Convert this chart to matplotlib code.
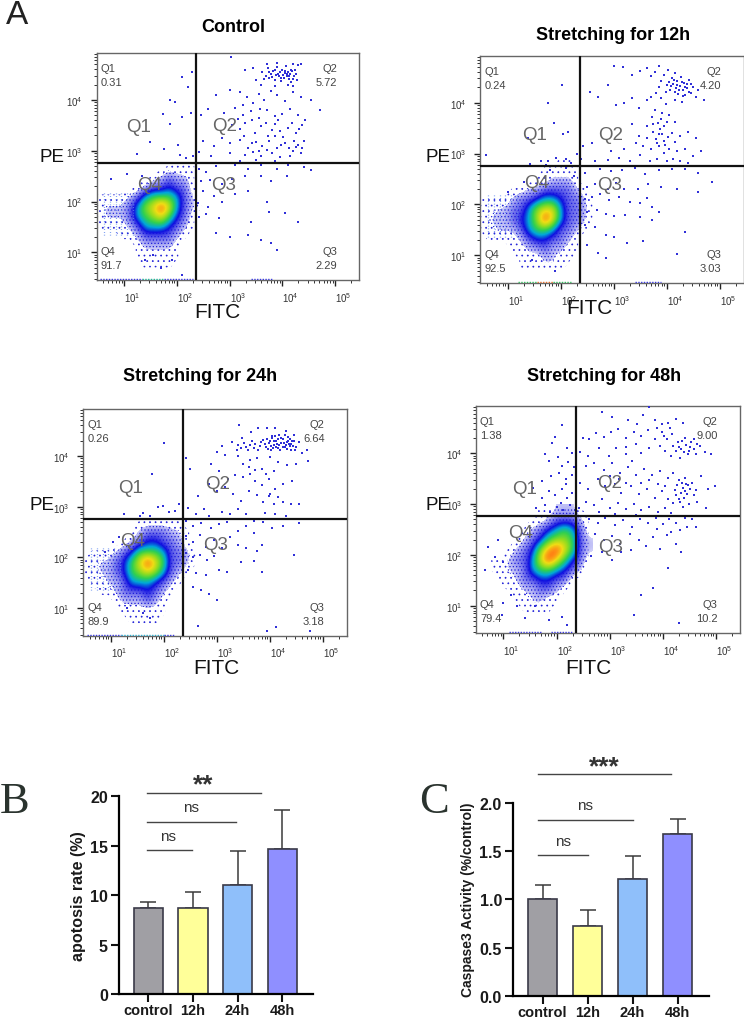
import matplotlib
matplotlib.use("Agg")
import matplotlib.pyplot as plt
import numpy as np
from matplotlib.colors import LinearSegmentedColormap

plt.rcParams['font.family'] = ['Liberation Sans', 'DejaVu Sans']
plt.rcParams['mathtext.default'] = 'regular'
plt.rcParams['hatch.linewidth'] = 0.5

W, H = 744, 1020

# density: log10 FITC columns, log10 PE rows (top to bottom), 0-10 colour level
grid_x = [0.5, 0.65, 0.8, 0.95, 1.1, 1.25, 1.4, 1.55, 1.7, 1.85, 2.0, 2.15, 2.3, 2.45, 2.6]
grid_y = [2.9, 2.7, 2.5, 2.3, 2.1, 1.9, 1.7, 1.5, 1.3, 1.1, 0.9, 0.7]

control_density = [
    [0, 0, 0, 0, 0, 0, 0, 0, 0, 0, 0, 0, 0, 0, 0],
    [0, 0, 0, 0, 0, 0, 0, 0, 0, 1, 1, 1, 1, 0, 0],
    [0, 0, 0, 0, 0, 0, 0, 1, 2, 3, 2, 2, 1, 0, 0],
    [0, 0, 0, 0, 0, 1, 2, 3, 3, 4, 3, 3, 1, 0, 0],
    [1, 1, 1, 1, 2, 3, 5, 6, 6, 6, 5, 3, 2, 0, 0],
    [1, 2, 2, 2, 3, 5, 7, 8, 10, 8, 5, 3, 2, 1, 0],
    [1, 2, 2, 2, 3, 5, 6, 7, 8, 6, 4, 3, 1, 0, 0],
    [1, 1, 1, 1, 2, 3, 5, 5, 5, 4, 3, 2, 1, 0, 0],
    [0, 0, 0, 1, 1, 2, 3, 3, 3, 3, 2, 1, 0, 0, 0],
    [0, 0, 0, 0, 0, 1, 2, 2, 2, 2, 1, 0, 0, 0, 0],
    [0, 0, 0, 0, 0, 1, 1, 1, 1, 1, 1, 0, 0, 0, 0],
    [0, 0, 0, 0, 0, 0, 1, 1, 1, 1, 0, 0, 0, 0, 0],
]
h12_density = [
    [0, 0, 0, 0, 0, 0, 0, 0, 0, 0, 1, 1, 0, 0, 0],
    [0, 0, 0, 0, 0, 0, 0, 0, 1, 1, 1, 1, 1, 0, 0],
    [0, 0, 0, 0, 0, 0, 0, 1, 1, 2, 2, 2, 1, 0, 0],
    [0, 0, 0, 0, 1, 1, 2, 2, 3, 3, 3, 3, 2, 1, 0],
    [1, 1, 1, 1, 2, 3, 3, 4, 5, 5, 4, 3, 3, 2, 1],
    [1, 1, 2, 2, 3, 3, 5, 7, 8, 8, 5, 3, 3, 2, 1],
    [1, 2, 2, 2, 3, 4, 5, 7, 10, 8, 5, 3, 3, 2, 1],
    [1, 1, 2, 2, 2, 3, 5, 6, 6, 5, 3, 3, 2, 1, 0],
    [0, 1, 1, 1, 1, 2, 3, 4, 4, 3, 3, 2, 1, 0, 0],
    [0, 0, 0, 0, 1, 1, 2, 2, 3, 2, 2, 1, 1, 0, 0],
    [0, 0, 0, 0, 0, 1, 1, 1, 2, 2, 1, 1, 0, 0, 0],
    [0, 0, 0, 0, 0, 1, 1, 1, 1, 1, 1, 0, 0, 0, 0],
]
h24_density = [
    [0, 0, 0, 0, 0, 0, 0, 0, 0, 0, 0, 0, 0, 0, 0],
    [0, 0, 0, 0, 0, 0, 0, 1, 1, 1, 1, 1, 1, 0, 0],
    [0, 0, 0, 0, 0, 0, 1, 2, 3, 3, 3, 2, 2, 1, 0],
    [0, 0, 0, 0, 0, 1, 2, 3, 4, 4, 3, 3, 2, 1, 0],
    [0, 1, 1, 1, 2, 3, 4, 6, 6, 6, 5, 3, 3, 2, 1],
    [1, 1, 2, 2, 3, 4, 6, 8, 10, 8, 6, 3, 3, 2, 1],
    [1, 1, 2, 2, 3, 4, 6, 7, 8, 7, 5, 3, 2, 1, 0],
    [0, 1, 1, 2, 2, 3, 5, 5, 5, 4, 3, 2, 1, 0, 0],
    [0, 0, 1, 1, 2, 3, 3, 3, 4, 3, 2, 1, 0, 0, 0],
    [0, 0, 0, 0, 1, 2, 2, 2, 3, 2, 1, 0, 0, 0, 0],
    [0, 0, 0, 0, 0, 1, 1, 1, 1, 1, 1, 0, 0, 0, 0],
    [0, 0, 0, 0, 0, 0, 1, 1, 1, 1, 0, 0, 0, 0, 0],
]
h48_density = [
    [0, 0, 0, 0, 0, 0, 0, 0, 1, 1, 2, 2, 2, 1, 0],
    [0, 0, 0, 0, 0, 0, 0, 1, 1, 2, 3, 3, 3, 2, 1],
    [0, 0, 0, 0, 0, 0, 1, 2, 3, 4, 5, 6, 5, 3, 1],
    [0, 0, 0, 0, 0, 1, 2, 3, 4, 6, 7, 7, 6, 3, 2],
    [0, 0, 0, 0, 1, 2, 3, 4, 7, 9, 10, 8, 6, 3, 2],
    [0, 0, 1, 1, 2, 3, 3, 5, 8, 10, 8, 6, 4, 3, 1],
    [0, 0, 1, 1, 2, 2, 3, 5, 6, 6, 5, 4, 3, 2, 0],
    [0, 0, 0, 1, 1, 2, 3, 3, 4, 4, 3, 3, 1, 0, 0],
    [0, 0, 0, 0, 1, 1, 2, 2, 3, 3, 2, 1, 0, 0, 0],
    [0, 0, 0, 0, 0, 1, 1, 2, 2, 1, 1, 0, 0, 0, 0],
    [0, 0, 0, 0, 0, 0, 1, 1, 1, 1, 0, 0, 0, 0, 0],
    [0, 0, 0, 0, 0, 0, 0, 0, 0, 0, 0, 0, 0, 0, 0],
]

# individual events outside the dense core (log10 FITC, log10 PE)
control_points = [
    (2.09, 4.45), (2.28, 4.55), (2.22, 4.26), (1.87, 3.99), (1.97, 3.96), (1.73, 3.72), (1.87, 3.52), (2.1, 3.66),
    (2.26, 3.75), (1.49, 3.18), (1.75, 3.04), (2.03, 3.12), (1.25, 2.93), (2.06, 2.91), (2.18, 2.86), (2.3, 2.9),
    (3.62, 4.55), (3.68, 4.48), (3.72, 4.62), (3.75, 4.43), (3.79, 4.52), (3.82, 4.58), (3.85, 4.40), (3.88, 4.50),
    (3.90, 4.64), (3.93, 4.47), (3.95, 4.55), (3.97, 4.38), (4.0, 4.60), (4.02, 4.50), (4.03, 4.44), (4.05, 4.53),
    (4.07, 4.66), (4.09, 4.47), (4.11, 4.56), (4.13, 4.42), (4.15, 4.51), (4.17, 4.35), (4.19, 4.58), (4.22, 4.47),
    (4.25, 4.52), (4.28, 4.40), (4.3, 4.68), (3.45, 4.62), (3.3, 4.6), (3.5, 4.4), (3.6, 4.3), (3.85, 4.28),
    (4.1, 4.3), (4.2, 4.28), (3.7, 4.7), (3.9, 4.72), (4.2, 4.7), (4.35, 4.7), (3.02, 4.85), (2.75, 4.1),
    (3.0, 4.2), (3.2, 4.15), (3.32, 4.05), (3.45, 3.95), (3.55, 4.12), (3.65, 4.0), (3.78, 4.18), (3.9, 4.1),
    (4.05, 3.98), (4.2, 4.15), (4.35, 4.05), (4.55, 4.0), (4.72, 3.8), (2.45, 3.7), (2.6, 3.82), (2.9, 3.75),
    (3.1, 3.85), (3.25, 3.7), (3.4, 3.78), (3.55, 3.65), (3.7, 3.8), (3.85, 3.68), (4.0, 3.72), (4.15, 3.82),
    (4.3, 3.7), (4.42, 3.6), (3.05, 3.5), (3.2, 3.42), (3.3, 3.55), (3.48, 3.35), (3.6, 3.48), (3.72, 3.3),
    (3.85, 3.52), (3.95, 3.38), (4.1, 3.45), (4.25, 3.35), (4.38, 3.5), (2.5, 3.2), (2.7, 3.1), (2.85, 3.25),
    (3.0, 3.15), (3.2, 3.22), (3.35, 3.05), (3.5, 3.18), (3.62, 3.1), (3.75, 3.2), (3.9, 3.05), (4.05, 3.15),
    (4.2, 3.0), (4.3, 3.12), (4.4, 3.2), (2.42, 2.98), (2.65, 2.9), (3.0, 2.95), (3.3, 2.92), (3.45, 2.98),
    (3.6, 2.9), (3.8, 2.95), (3.95, 2.88), (4.15, 2.9), (4.35, 2.95), (3.2, 2.8), (3.5, 2.82), (3.85, 2.8),
    (2.42, 2.65), (2.55, 2.58), (2.75, 2.7), (3.1, 2.72), (3.35, 2.65), (3.6, 2.72), (3.9, 2.65), (4.1, 2.72),
    (4.4, 2.68), (4.55, 2.62), (2.45, 2.4), (2.62, 2.42), (2.85, 2.35), (3.05, 2.45), (3.3, 2.5), (3.6, 2.5),
    (3.78, 2.4), (4.08, 2.5), (2.5, 2.2), (2.7, 2.1), (2.4, 1.98), (2.6, 1.9), (2.85, 2.0), (3.1, 2.15),
    (3.35, 2.2), (3.7, 2.0), (2.42, 1.7), (2.55, 1.75), (2.8, 1.68), (3.4, 1.6), (3.75, 1.8), (4.05, 1.78),
    (2.75, 1.38), (3.0, 1.3), (3.35, 1.35), (3.6, 1.25), (3.78, 1.18), (3.9, 1.05), (4.3, 1.6),
    (1.05, 2.55), (0.75, 2.45), (1.35, 2.5), (1.4, 0.85), (1.55, 0.95), (1.7, 0.7), (1.9, 0.85), (2.1, 0.55),
    # second pass over the upper right cloud
    (3.66, 4.42), (3.74, 4.55), (3.8, 4.46), (3.86, 4.6), (3.92, 4.52), (3.98, 4.44), (4.04, 4.58), (4.08, 4.52),
    (4.12, 4.48), (4.16, 4.6), (4.2, 4.42), (4.24, 4.6), (3.25, 3.9), (3.42, 3.6), (3.58, 3.82), (3.68, 3.55),
    (3.8, 3.4), (3.92, 3.6), (4.02, 3.28), (4.18, 3.55), (4.22, 3.2), (4.32, 3.42), (3.15, 3.62), (3.28, 3.3),
    (3.42, 3.15), (3.55, 3.0), (3.7, 3.02), (3.85, 3.3), (3.98, 3.12), (4.12, 3.05), (4.25, 3.08), (4.38, 3.05),
]
h12_points = [
    (2.38, 2.9), (2.02, 4.35), (1.76, 4.0), (1.87, 3.6), (2.13, 3.42), (2.05, 3.38), (1.38, 3.3), (1.92, 2.92),
    (1.62, 2.85), (1.76, 2.85), (2.3, 3.0), (2.1, 2.9), (0.6, 2.98), (1.42, 2.8), (1.72, 2.78), (2.2, 2.82),
    (3.0, 4.72), (3.18, 4.7), (3.35, 4.55), (3.5, 4.62), (3.62, 4.68), (3.7, 4.52), (3.78, 4.6), (3.85, 4.72),
    (3.9, 4.42), (3.95, 4.55), (4.0, 4.35), (4.03, 4.65), (4.07, 4.25), (4.1, 4.48), (4.12, 4.36), (4.15, 4.58),
    (4.18, 4.28), (4.2, 4.42), (4.22, 4.18), (4.25, 4.32), (4.27, 4.5), (4.3, 4.25), (4.33, 4.38), (4.35, 4.15),
    (4.38, 4.28), (4.42, 4.45), (4.45, 4.2), (4.5, 4.3), (4.55, 4.12), (4.6, 4.25), (4.7, 4.05), (3.8, 4.2),
    (3.9, 4.1), (3.7, 4.12), (3.98, 3.98), (4.15, 4.05), (4.28, 4.02), (2.55, 4.22), (2.7, 4.12), (2.9, 4.35),
    (3.05, 3.95), (3.2, 4.0), (3.35, 4.1), (3.48, 3.9), (3.62, 4.05), (3.78, 3.85), (3.92, 3.8), (4.05, 3.75),
    (4.15, 3.62), (3.9, 3.68), (3.95, 3.55), (3.75, 3.58), (3.62, 3.55), (3.35, 3.58), (3.48, 3.35), (3.62, 3.3),
    (3.75, 3.42), (3.85, 3.38), (3.95, 3.25), (4.1, 3.4), (4.25, 3.35), (4.4, 3.42), (4.55, 3.3), (2.42, 3.15),
    (2.6, 3.2), (2.95, 3.05), (3.2, 3.1), (3.42, 3.2), (3.55, 3.15), (3.7, 3.1), (3.82, 3.2), (3.95, 3.02),
    (4.05, 3.1), (4.2, 3.05), (4.35, 3.1), (4.5, 2.95), (4.65, 3.05), (2.65, 2.85), (2.9, 2.88), (3.1, 2.92),
    (3.3, 2.85), (3.5, 2.98), (3.68, 2.85), (3.82, 2.9), (4.0, 2.85), (4.12, 2.9), (4.25, 2.85), (4.4, 2.82),
    (2.45, 2.62), (2.75, 2.7), (2.95, 2.65), (3.15, 2.68), (3.4, 2.72), (3.6, 2.6), (3.85, 2.68), (4.1, 2.7),
    (4.35, 2.7), (4.6, 2.62), (4.85, 2.45), (2.5, 2.35), (2.65, 2.4), (2.9, 2.3), (3.05, 2.42), (3.2, 2.3),
    (3.45, 2.3), (3.65, 2.4), (3.9, 2.35), (4.2, 2.3), (4.6, 2.25), (2.45, 2.1), (2.6, 2.15), (2.75, 2.2),
    (2.92, 2.08), (3.1, 2.15), (3.3, 2.05), (3.5, 2.02), (3.62, 2.12), (3.72, 1.95), (3.85, 1.85), (2.5, 1.85),
    (2.68, 1.9), (2.85, 1.82), (3.0, 1.78), (3.22, 1.8), (3.5, 1.75), (3.72, 1.7), (2.45, 1.6), (2.65, 1.55),
    (2.85, 1.4), (3.0, 1.35), (3.25, 1.25), (3.55, 1.28), (2.5, 1.2), (2.7, 1.05), (2.85, 0.95), (4.2, 1.02),
    (4.35, 1.45), (1.0, 2.25), (1.3, 2.45), (1.8, 2.68), (2.1, 2.72), (2.25, 2.55), (1.45, 0.9), (1.9, 0.7),
    # second pass over the upper right cloud
    (4.04, 4.4), (4.08, 4.32), (4.14, 4.44), (4.16, 4.22), (4.2, 4.34), (4.24, 4.26), (4.28, 4.4), (4.3, 4.14),
    (4.34, 4.3), (4.38, 4.36), (4.42, 4.22), (4.46, 4.36), (3.86, 4.3), (3.98, 4.22), (3.72, 3.72), (3.84, 3.6),
    (3.88, 3.48), (4.0, 3.62), (3.92, 3.38), (3.8, 3.28), (3.86, 3.14), (4.02, 3.32), (3.96, 3.16), (4.15, 3.22),
]
h24_points = [
    (2.0, 4.25), (1.78, 3.65), (1.9, 3.0), (1.98, 3.02), (1.6, 2.88), (1.75, 2.82), (1.25, 2.85), (2.1, 2.9),
    (2.22, 2.92), (2.28, 3.05), (2.42, 3.95), (2.5, 3.75), (2.65, 3.2), (2.75, 2.95), (2.9, 3.85), (3.0, 4.08),
    (3.15, 4.02), (3.28, 4.28), (3.38, 4.12), (3.48, 4.35), (3.55, 4.18), (3.62, 4.22), (3.7, 4.15), (3.78, 4.55),
    (3.82, 4.2), (3.88, 4.32), (3.92, 4.18), (3.98, 4.26), (4.02, 4.12), (4.05, 4.35), (4.08, 4.22), (4.12, 4.3),
    (4.15, 4.15), (4.18, 4.42), (4.22, 4.25), (4.25, 4.33), (4.28, 4.18), (4.3, 4.5), (4.32, 4.28), (4.35, 4.38),
    (4.38, 4.2), (4.4, 4.12), (4.42, 4.3), (4.45, 4.42), (4.5, 4.18), (4.55, 4.28), (4.6, 4.05), (4.7, 4.12),
    (3.1, 4.2), (3.42, 4.6), (3.65, 4.48), (3.95, 4.55), (4.1, 4.55), (3.4, 4.0), (3.5, 3.85), (3.62, 3.92),
    (3.75, 3.95), (3.85, 3.75), (4.0, 3.98), (4.15, 3.88), (4.32, 3.82), (4.5, 3.85), (4.72, 3.9), (3.05, 3.7),
    (3.22, 3.55), (3.35, 3.62), (3.5, 3.58), (3.62, 3.65), (3.72, 3.5), (3.85, 3.42), (3.98, 3.55), (4.1, 3.35),
    (4.25, 3.45), (4.42, 3.5), (2.85, 3.45), (3.0, 3.3), (3.15, 3.38), (3.3, 3.25), (3.45, 3.12), (3.6, 3.3),
    (3.75, 3.22), (3.88, 3.1), (4.0, 3.25), (4.08, 3.05), (4.15, 3.18), (4.25, 3.1), (4.4, 3.05), (4.55, 3.05),
    (2.45, 2.98), (2.6, 2.85), (2.85, 2.82), (3.1, 2.9), (3.25, 2.85), (3.4, 2.95), (3.55, 2.85), (3.7, 2.72),
    (3.9, 2.88), (4.1, 2.85), (4.3, 2.82), (2.42, 2.72), (2.55, 2.62), (2.7, 2.68), (2.9, 2.58), (3.05, 2.65),
    (3.2, 2.7), (3.4, 2.52), (3.55, 2.62), (3.7, 2.48), (3.88, 2.7), (4.05, 2.58), (4.25, 2.62), (4.55, 2.68),
    (2.42, 2.42), (2.55, 2.3), (2.68, 2.45), (2.8, 2.2), (2.95, 2.35), (3.1, 2.18), (3.25, 2.4), (3.4, 2.25),
    (3.55, 2.18), (3.75, 2.12), (3.85, 2.25), (2.42, 2.08), (2.55, 2.0), (2.68, 2.05), (2.82, 1.95), (2.95, 2.02),
    (3.45, 1.9), (3.7, 1.92), (3.85, 1.72), (4.45, 2.05), (2.45, 1.75), (2.6, 1.7), (2.8, 1.65), (3.05, 1.75),
    (3.2, 1.72), (2.55, 1.42), (2.7, 1.35), (2.85, 1.28), (3.0, 1.15), (2.65, 0.65), (4.12, 0.62), (3.95, 0.55),
    (4.75, 0.55), (1.15, 2.4), (1.05, 2.3), (0.9, 2.1), (1.55, 2.82), (1.3, 1.0), (1.6, 0.9), (1.75, 0.8),
    # second pass over the upper right cluster
    (3.4, 4.22), (3.46, 4.16), (3.52, 4.26), (3.58, 4.12), (3.66, 4.3), (3.72, 4.24), (3.78, 4.12), (3.84, 4.28),
    (3.9, 4.24), (3.94, 4.34), (3.96, 4.14), (4.0, 4.3), (4.02, 4.2), (4.04, 4.4), (4.06, 4.16), (4.08, 4.3),
    (4.1, 4.4), (4.12, 4.18), (4.14, 4.24), (4.16, 4.34), (4.18, 4.22), (4.2, 4.12), (4.22, 4.36), (4.24, 4.18),
    (4.26, 4.26), (4.28, 4.42), (4.3, 4.22), (4.32, 4.14), (4.34, 4.3), (4.36, 4.24), (4.38, 4.34), (4.4, 4.24),
    (4.44, 4.2), (4.46, 4.3), (4.48, 4.12), (3.6, 3.78), (3.72, 3.72), (3.92, 3.65), (4.08, 3.7), (3.98, 3.2),
]
h48_points = [
    (2.1, 4.55), (1.92, 4.2), (1.98, 4.32), (2.2, 4.1), (2.3, 4.0), (1.78, 3.98), (1.85, 3.85), (2.02, 3.92),
    (2.1, 3.75), (2.22, 3.82), (2.32, 3.72), (1.72, 3.45), (1.9, 3.55), (2.05, 3.62), (2.18, 3.5), (2.3, 3.58),
    (1.55, 3.32), (1.72, 3.12), (1.85, 3.25), (1.98, 3.18), (2.1, 3.3), (2.2, 3.12), (2.3, 3.22), (1.62, 2.92),
    (1.78, 2.98), (1.88, 2.85), (2.0, 2.95), (2.12, 2.88), (2.25, 2.98), (2.35, 2.88), (2.18, 3.4), (2.08, 3.02),
    (2.85, 4.82), (3.05, 4.72), (3.35, 4.65), (3.62, 4.75), (3.75, 4.92), (3.52, 4.58), (3.85, 4.65), (3.98, 4.58),
    (4.1, 4.6), (4.25, 4.68), (4.38, 4.6), (2.5, 4.3), (2.62, 4.28), (2.75, 4.4), (2.9, 4.32), (3.02, 4.42),
    (3.15, 4.48), (3.3, 4.3), (3.45, 4.42), (3.6, 4.35), (3.72, 4.45), (3.85, 4.28), (3.98, 4.42), (4.08, 4.28),
    (4.18, 4.38), (4.28, 4.22), (4.35, 4.08), (4.42, 4.3), (4.48, 3.98), (4.52, 4.12), (4.58, 4.28), (4.62, 3.98),
    (4.7, 4.15), (4.8, 4.02), (4.9, 3.98), (4.05, 4.05), (4.15, 3.95), (4.25, 4.05), (4.32, 3.9), (3.6, 4.0),
    (3.75, 4.1), (2.45, 4.02), (2.6, 3.95), (2.8, 4.1), (2.98, 3.95), (3.12, 4.1), (3.3, 3.98), (3.42, 3.85),
    (2.55, 3.75), (2.7, 3.8), (2.9, 3.68), (3.05, 3.8), (3.2, 3.62), (3.35, 3.72), (3.5, 3.58), (3.65, 3.7),
    (3.8, 3.58), (3.95, 3.65), (4.1, 3.52), (4.2, 3.62), (4.3, 3.48), (4.38, 3.32), (4.42, 3.52), (4.48, 3.38),
    (4.55, 3.42), (4.62, 3.28), (4.72, 3.55), (4.85, 3.3), (4.98, 3.35), (2.45, 3.42), (2.6, 3.3), (2.78, 3.5),
    (2.92, 3.35), (3.1, 3.4), (3.22, 3.22), (3.4, 3.35), (3.55, 3.2), (3.7, 3.3), (3.85, 3.12), (3.98, 3.25),
    (4.1, 3.1), (4.25, 3.18), (4.32, 3.05), (4.4, 3.12), (4.5, 3.0), (4.65, 3.05), (4.82, 2.92), (2.42, 2.92),
    (2.55, 3.05), (2.7, 2.98), (2.85, 3.1), (3.0, 2.92), (3.15, 3.02), (3.3, 2.9), (3.45, 3.0), (3.6, 2.88),
    (3.75, 2.95), (3.92, 2.85), (4.05, 2.92), (4.15, 2.82), (2.62, 2.7), (2.78, 2.62), (2.92, 2.72), (3.1, 2.58),
    (3.25, 2.68), (3.42, 2.55), (3.58, 2.7), (3.72, 2.62), (3.88, 2.72), (4.0, 2.6), (4.12, 2.7), (4.25, 2.62),
    (4.32, 2.48), (4.42, 2.72), (4.55, 2.7), (4.62, 2.55), (2.72, 2.42), (2.9, 2.3), (3.05, 2.38), (3.2, 2.22),
    (3.38, 2.42), (3.55, 2.3), (3.68, 2.18), (3.82, 2.35), (3.95, 2.12), (4.08, 2.4), (4.25, 2.22), (4.35, 2.05),
    (2.65, 1.98), (2.85, 2.05), (3.05, 1.9), (3.22, 2.05), (3.4, 2.1), (4.1, 1.75), (3.82, 1.35), (3.6, 1.2),
    (3.45, 0.82), (4.3, 0.65), (0.7, 2.15), (0.85, 1.95), (0.65, 1.7), (0.9, 2.3), (1.0, 1.85), (1.15, 1.2),
    (1.0, 1.05), (1.25, 1.0), (1.4, 0.75), (1.85, 0.72), (2.1, 0.78), (2.2, 0.62), (1.6, 1.0), (0.98, 0.82),
    # second pass over the upper right clusters
    (4.2, 4.15), (4.3, 4.12), (4.36, 4.24), (4.4, 4.02), (4.44, 4.16), (4.5, 4.05), (4.54, 4.22), (4.58, 4.08),
    (4.64, 4.18), (3.9, 4.5), (4.02, 4.34), (4.14, 4.5), (4.26, 3.38), (4.34, 3.22), (4.36, 3.42), (4.42, 3.26),
    (4.44, 3.4), (4.46, 3.2), (4.52, 3.3), (4.58, 3.18), (4.24, 3.28), (4.3, 3.1), (4.2, 3.02), (4.38, 2.95),
    (3.0, 3.55), (3.18, 3.5), (3.3, 3.42), (3.6, 3.42), (3.75, 3.48), (3.92, 3.4), (4.05, 3.35), (3.5, 2.78),
    (3.1, 2.8), (2.8, 2.85), (3.9, 2.5), (4.15, 2.45), (4.45, 2.55), (3.3, 4.12), (3.5, 4.18), (3.95, 4.15),
]

# quantised low-signal columns at the left of the plots (log10 FITC)
stripe_x = [0.62, 0.74, 0.85, 0.94, 1.06, 1.17]

# events piled on the lower axis: from, to, colour
control_edge = [(0.55, 1.35, '#3a3ae0'), (1.35, 1.75, '#22b89a'), (1.75, 2.3, '#3a3ae0'), (3.4, 3.8, '#3a3ae0')]
h12_edge = [(1.2, 1.55, '#35c060'), (1.55, 1.85, '#e8702a'), (1.85, 2.2, '#35c060'), (3.4, 3.9, '#3a3ae0')]
h24_edge = [(0.55, 1.2, '#3a3ae0'), (1.2, 2.0, '#30b0d0'), (2.0, 2.2, '#3a3ae0')]
h48_edge = [(1.1, 1.7, '#3a3ae0'), (1.9, 2.3, '#3a3ae0')]

decades = [1, 2, 3, 4, 5]
decade_labels = ['$10^{1}$', '$10^{2}$', '$10^{3}$', '$10^{4}$', '$10^{5}$']

quadrant_names = ['Q1', 'Q2', 'Q3', 'Q4']
control_pct = ['0.31', '5.72', '2.29', '91.7']
h12_pct = ['0.24', '4.20', '3.03', '92.5']
h24_pct = ['0.26', '6.64', '3.18', '89.9']
h48_pct = ['1.38', '9.00', '10.2', '79.4']

groups = ['control', '12h', '24h', '48h']
bar_colors = ['#A09FA4', '#FFFF99', '#8FBFFA', '#8F8FFF']
apoptosis_mean = [8.72, 8.75, 11.08, 14.68]
apoptosis_err = [0.64, 1.59, 3.43, 3.94]
caspase_mean = [1.0, 0.72, 1.21, 1.68]
caspase_err = [0.152, 0.169, 0.236, 0.154]

# colour runs from 1.8 to 10 on the density scale; the blue end fades out over the dots
density_cmap = LinearSegmentedColormap.from_list('flow', [
    (0.0, (0.12, 0.12, 0.88, 0.2)), (0.15, (0.10, 0.10, 0.88, 0.65)), (0.27, (0.06, 0.06, 0.88, 1.0)),
    (0.39, '#00a8d8'), (0.51, '#30d050'), (0.63, '#90dc20'), (0.76, '#f0dc14'), (0.88, '#ff8a14'), (1.0, '#ee2814'),
])
density_cmap.set_under((1, 1, 1, 0))

fig = plt.figure(figsize=(W / 100, H / 100), dpi=100)


def px(x, y):
    return x / W, 1 - y / H


def px_axes(left, top, right, bottom):
    return fig.add_axes([left / W, 1 - bottom / H, (right - left) / W, (bottom - top) / H])


def flow_panel(box, title, title_pos, density, points, edge, pct, big_q, pe_pos, fitc_pos, stripes):
    left, top, right, bottom = box
    ax = px_axes(left, top, right, bottom)
    step_x = grid_x[1] - grid_x[0]
    step_y = grid_y[0] - grid_y[1]
    # speckled outskirts as dots, the dense core as a smooth image
    cs = ax.contourf(grid_x, grid_y, density, levels=[0.8, 1.8, 4.2], colors='none',
                     hatches=['...', '.....'], zorder=1)
    cs.set_edgecolor('#2020d8')
    cs.set_linewidth(0)
    ax.imshow(density, extent=[grid_x[0] - step_x / 2, grid_x[-1] + step_x / 2,
                               grid_y[-1] - step_y / 2, grid_y[0] + step_y / 2],
              cmap=density_cmap, vmin=1.8, vmax=10, interpolation='bicubic', aspect='auto', zorder=2)
    if stripes:
        ax.vlines(stripe_x, 1.35, 2.2, color='#5c86ee', lw=0.9, linestyles=(0, (0.6, 1.6)), zorder=2)
    pts = np.array(points)
    ax.scatter(pts[:, 0], pts[:, 1], s=1.3, color='#3030d8', marker='s', linewidths=0, zorder=3)
    for x0, x1, c in edge:
        ax.plot([x0, x1], [0.475, 0.475], color=c, lw=1, ls=(0, (1, 1)), zorder=3)
    ax.axvline(2.36, color='#111111', lw=1.6, zorder=4)
    ax.axhline(2.764, color='#111111', lw=1.6, zorder=4)
    ax.set_xlim(0.483, 5.45)
    ax.set_ylim(0.455, 4.925)
    ax.set_xticks(decades)
    ax.set_xticklabels(decade_labels, ha='left')
    ax.set_yticks(decades[:4])
    ax.set_yticklabels(decade_labels[:4])
    minor = [d + np.log10(k) for d in range(0, 6) for k in range(2, 10)]
    ax.set_xticks([m for m in minor if 0.483 < m < 5.45], minor=True)
    ax.set_yticks([m for m in minor if 0.455 < m < 4.925], minor=True)
    ax.tick_params(which='major', length=4, width=1, labelsize=7, color='#222222', labelcolor='#333333')
    ax.tick_params(which='minor', length=2.2, width=0.7, color='#333333')
    ax.tick_params(axis='x', which='major', pad=3)
    ax.tick_params(axis='y', which='major', pad=6)
    for s in ax.spines.values():
        s.set_color('#666666')
        s.set_linewidth(1)

    fig.text(*px(*title_pos), title, ha='center', va='center', fontsize=13, fontweight='bold')
    small = dict(fontsize=8, color='#444444', va='center')
    fig.text(*px(left + 4, top + 15), quadrant_names[0], ha='left', **small)
    fig.text(*px(left + 4, top + 29), pct[0], ha='left', **small)
    fig.text(*px(right - 22, top + 15), quadrant_names[1], ha='right', **small)
    fig.text(*px(right - 22, top + 29), pct[1], ha='right', **small)
    fig.text(*px(right - 22, bottom - 29), quadrant_names[2], ha='right', **small)
    fig.text(*px(right - 22, bottom - 15), pct[2], ha='right', **small)
    fig.text(*px(left + 4, bottom - 29), quadrant_names[3], ha='left', **small)
    fig.text(*px(left + 4, bottom - 15), pct[3], ha='left', **small)
    for name, pos in zip(quadrant_names, big_q):
        t = fig.text(*px(*pos), name, ha='center', va='center', fontsize=13.5, color='#666666')
        t.set_zorder(5)
    fig.text(*px(*pe_pos), 'PE', ha='center', va='center', fontsize=13.5, color='#111111')
    fig.text(*px(*fitc_pos), 'FITC', ha='center', va='center', fontsize=15, color='#111111')
    return ax


def bar_panel(box, ylim, yticks, yfmt, means, errs, ylabel, label_pos, label_size, sig_lines, sig_texts):
    ax = px_axes(*box)
    ax.bar(range(4), means, width=0.655, color=bar_colors, edgecolor='#3a3a48', linewidth=1.2, zorder=2)
    ax.errorbar(range(4), means, yerr=[np.zeros(4), errs], fmt='none', ecolor='#3a3a3a', elinewidth=1.1,
                capsize=5.5, capthick=1.1, zorder=1)
    ax.set_ylim(*ylim)
    ax.set_yticks(yticks)
    ax.set_yticklabels([yfmt % v for v in yticks])
    ax.set_xticks(range(4))
    ax.set_xticklabels(groups)
    ax.tick_params(axis='both', length=6, width=1.5, color='#111111')
    ax.tick_params(axis='y', labelsize=11.5, pad=2)
    ax.tick_params(axis='x', labelsize=10.5, pad=0.5)
    for lab in ax.get_xticklabels() + ax.get_yticklabels():
        lab.set_fontweight('bold')
        lab.set_color('#1a1a1a')
    ax.spines['top'].set_visible(False)
    ax.spines['right'].set_visible(False)
    ax.spines['left'].set_linewidth(1.6)
    ax.spines['bottom'].set_linewidth(1.6)
    for x0, x1, y in sig_lines:
        ax.plot([x0, x1], [y, y], color='#444444', lw=1, clip_on=False)
    for s, x, y, size in sig_texts:
        fig.text(*px(x, y), s, ha='center', va='center', fontsize=size, color='#333333',
                 fontweight='bold' if '*' in s else 'normal')
    fig.text(*px(*label_pos), ylabel, rotation=90, ha='center', va='center', fontsize=label_size,
             fontweight='bold', color='#1a1a1a')
    return ax


flow_panel((96.7, 54, 359, 281), 'Control', (233, 28), control_density, control_points, control_edge, control_pct,
           [(139, 127.7), (225, 126.7), (224, 185), (150, 186)], (52, 157), (217, 312), True)
flow_panel((480.3, 56.7, 743.5, 284), 'Stretching for 12h', (612.7, 35), h12_density, h12_points, h12_edge, h12_pct,
           [(534.3, 136), (611, 136), (609.7, 185), (537, 184)], (437.7, 157), (589, 308), True)
flow_panel((83.3, 410, 346.7, 636.7), 'Stretching for 24h', (200, 376.7), h24_density, h24_points, h24_edge, h24_pct,
           [(130.7, 488.3), (217.3, 485), (216, 545.7), (132.3, 541.7)], (41.7, 505.7), (216.7, 668), True)
flow_panel((476, 407.3, 739.7, 634.3), 'Stretching for 48h', (604.3, 376.7), h48_density, h48_points, h48_edge, h48_pct,
           [(524.3, 490), (609.7, 484), (611, 547.7), (520.3, 533.3)], (437.7, 505.7), (588.7, 668), False)

# bars: axes boxes put the first bar centre at x=0
ax_b = bar_panel((119, 797.3, 313, 995.3), (0, 20), [0, 5, 10, 15, 20], '%d', apoptosis_mean, apoptosis_err,
                 'apotosis rate (%)', (79, 895.7), 11.6,
                 [(-0.036, 2.526, 20.34), (-0.036, 1.97, 17.44), (-0.036, 0.97, 14.55)],
                 [('**', 203.3, 785, 19), ('ns', 190.7, 808.3, 11), ('ns', 168.3, 836.7, 11)])
ax_b.set_xlim(-0.658, 3.69)
ax_c = bar_panel((513, 804, 708.7, 996.7), (0, 2), [0, 0.5, 1, 1.5, 2], '%.1f', caspase_mean, caspase_err,
                 'Caspase3 Activity (%/control)', (468, 900), 10,
                 [(-0.1, 2.85, 2.30), (-0.1, 2.0, 1.827), (-0.1, 1.01, 1.457)],
                 [('***', 604.3, 767, 19), ('ns', 585, 806, 11), ('ns', 562.7, 841.7, 11)])
ax_c.set_xlim(-0.656, 3.69)

fig.text(*px(17, 15), 'A', ha='center', va='center', fontsize=24, color='#222222')
fig.text(*px(15, 802), 'B', ha='center', va='center', fontsize=32, family='Liberation Serif', color='#2a332e')
fig.text(*px(434, 802), 'C', ha='center', va='center', fontsize=32, family='Liberation Serif', color='#2a332e')

fig.savefig('out.png', dpi=100)
